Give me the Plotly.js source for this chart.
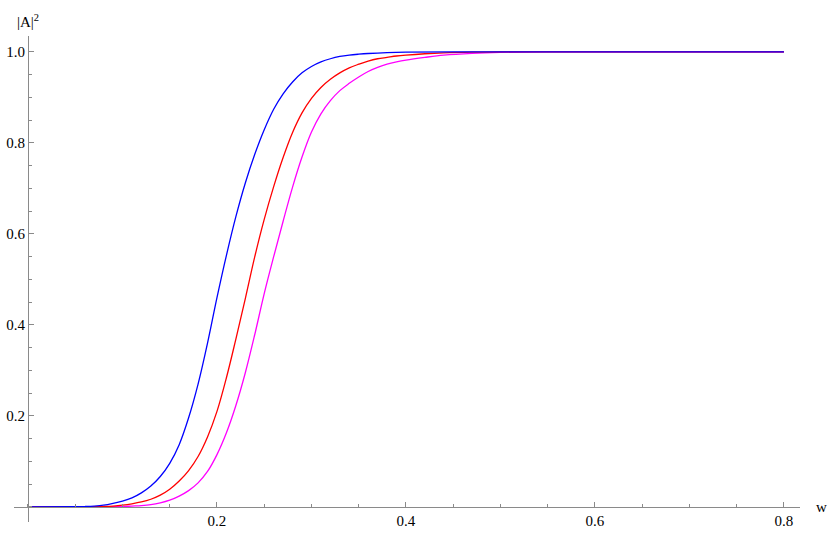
<!DOCTYPE html>
<html>
<head>
<meta charset="utf-8">
<script src="https://cdn.plot.ly/plotly-3.0.1.min.js"></script>
<style>html,body{margin:0;padding:0;background:#fff;}#chart{width:829px;height:534px;}</style>
</head>
<body>
<div id="chart"></div>
<script>
// Data (w values and |A|^2 values per curve)
const blueX = [0, 0.05, 0.06, 0.07, 0.08, 0.09, 0.10, 0.11, 0.12, 0.13, 0.14, 0.15, 0.16, 0.17, 0.18, 0.19, 0.20, 0.21, 0.22, 0.23, 0.24, 0.25, 0.26, 0.27, 0.28, 0.29, 0.30, 0.31, 0.32, 0.33, 0.34, 0.35, 0.36, 0.38, 0.40, 0.45, 0.55, 0.65, 0.8];
const blueY = [0, 0.0005, 0.001, 0.002, 0.004, 0.008, 0.013, 0.020, 0.031, 0.046, 0.067, 0.096, 0.137, 0.196, 0.270, 0.360, 0.460, 0.553, 0.638, 0.712, 0.775, 0.829, 0.874, 0.908, 0.934, 0.954, 0.968, 0.978, 0.985, 0.990, 0.993, 0.995, 0.9965, 0.9985, 0.9995, 1.0, 1.0, 1.0, 1.0];

const redX = [0, 0.07, 0.08, 0.09, 0.10, 0.11, 0.12, 0.13, 0.14, 0.15, 0.16, 0.17, 0.18, 0.19, 0.20, 0.21, 0.22, 0.23, 0.24, 0.25, 0.26, 0.27, 0.28, 0.29, 0.30, 0.31, 0.32, 0.33, 0.34, 0.35, 0.36, 0.37, 0.38, 0.39, 0.40, 0.42, 0.44, 0.47, 0.50, 0.6, 0.7, 0.8];
const redY = [0, 0.0005, 0.001, 0.002, 0.004, 0.007, 0.011, 0.017, 0.026, 0.039, 0.057, 0.080, 0.111, 0.154, 0.210, 0.284, 0.369, 0.458, 0.550, 0.632, 0.704, 0.768, 0.823, 0.866, 0.898, 0.922, 0.940, 0.954, 0.965, 0.973, 0.980, 0.985, 0.988, 0.991, 0.993, 0.996, 0.998, 0.9995, 1.0, 1.0, 1.0, 1.0];

const magX = [0, 0.08, 0.10, 0.11, 0.12, 0.13, 0.14, 0.15, 0.16, 0.17, 0.18, 0.19, 0.20, 0.21, 0.22, 0.23, 0.24, 0.25, 0.26, 0.27, 0.28, 0.29, 0.30, 0.31, 0.32, 0.33, 0.34, 0.35, 0.36, 0.37, 0.38, 0.39, 0.40, 0.42, 0.44, 0.47, 0.50, 0.55, 0.65, 0.8];
const magY = [0, 0.0005, 0.001, 0.002, 0.003, 0.005, 0.009, 0.015, 0.024, 0.036, 0.053, 0.078, 0.115, 0.163, 0.223, 0.295, 0.379, 0.469, 0.550, 0.628, 0.703, 0.769, 0.824, 0.864, 0.893, 0.915, 0.931, 0.945, 0.957, 0.966, 0.973, 0.978, 0.982, 0.988, 0.993, 0.997, 0.999, 1.0, 1.0, 1.0];

const xTickVals = [0.2, 0.4, 0.6, 0.8];
const xTickText = ["0.2", "0.4", "0.6", "0.8"];
const yTickVals = [0.2, 0.4, 0.6, 0.8, 1.0];
const yTickText = ["0.2", "0.4", "0.6", "0.8", "1.0"];

const xRange = [-0.0148, 0.817];
const yRange = [-0.033, 1.035];
const axisColor = '#8a8a8a';
const fontFam = 'Liberation Serif, Times New Roman, serif';

function tr(x, y, c) {
  return {x: x, y: y, type: 'scatter', mode: 'lines',
    line: {color: c, width: 1.3, shape: 'spline', smoothing: 1},
    hoverinfo: 'skip', showlegend: false};
}

const data = [tr(magX, magY, '#ff00ff'), tr(redX, redY, '#ff0000'), tr(blueX, blueY, '#0000ff')];

const xPos = (0 - yRange[0]) / (yRange[1] - yRange[0]);
const yPos = (0 - xRange[0]) / (xRange[1] - xRange[0]);

const layout = {
  width: 829, height: 534,
  margin: {l: 14, r: 29, t: 36, b: 12},
  paper_bgcolor: '#fff', plot_bgcolor: '#fff',
  font: {family: fontFam, size: 15, color: '#000'},
  xaxis: {
    range: xRange, showgrid: false, zeroline: false,
    anchor: 'free', position: xPos,
    showline: true, linecolor: axisColor, linewidth: 1,
    ticks: 'inside', ticklen: 5, tickcolor: axisColor, tickwidth: 1,
    tickvals: xTickVals, ticktext: xTickText,
    tickfont: {family: fontFam, size: 15, color: '#000'},
    minor: {dtick: 0.05, tick0: 0, ticks: 'inside', ticklen: 3, tickcolor: axisColor, showgrid: false},
    fixedrange: true
  },
  yaxis: {
    range: yRange, showgrid: false, zeroline: false,
    anchor: 'free', position: yPos,
    showline: true, linecolor: axisColor, linewidth: 1,
    ticks: 'inside', ticklen: 5, tickcolor: axisColor, tickwidth: 1,
    tickvals: yTickVals, ticktext: yTickText,
    tickfont: {family: fontFam, size: 15, color: '#000'},
    minor: {dtick: 0.05, tick0: 0, ticks: 'inside', ticklen: 3, tickcolor: axisColor, showgrid: false},
    fixedrange: true
  },
  annotations: [
    {xref: 'paper', yref: 'paper', x: 1.0, y: xPos, xanchor: 'left', yanchor: 'middle', xshift: 14,
     text: 'w', showarrow: false, font: {family: fontFam, size: 15, color: '#000'}},
    {xref: 'paper', yref: 'paper', x: yPos, y: 1.0, xanchor: 'center', yanchor: 'bottom', yshift: 4,
     text: '|A|<sup>2</sup>', showarrow: false, font: {family: fontFam, size: 15, color: '#000'}}
  ]
};

Plotly.newPlot('chart', data, layout, {displayModeBar: false, staticPlot: true});
</script>
</body>
</html>
